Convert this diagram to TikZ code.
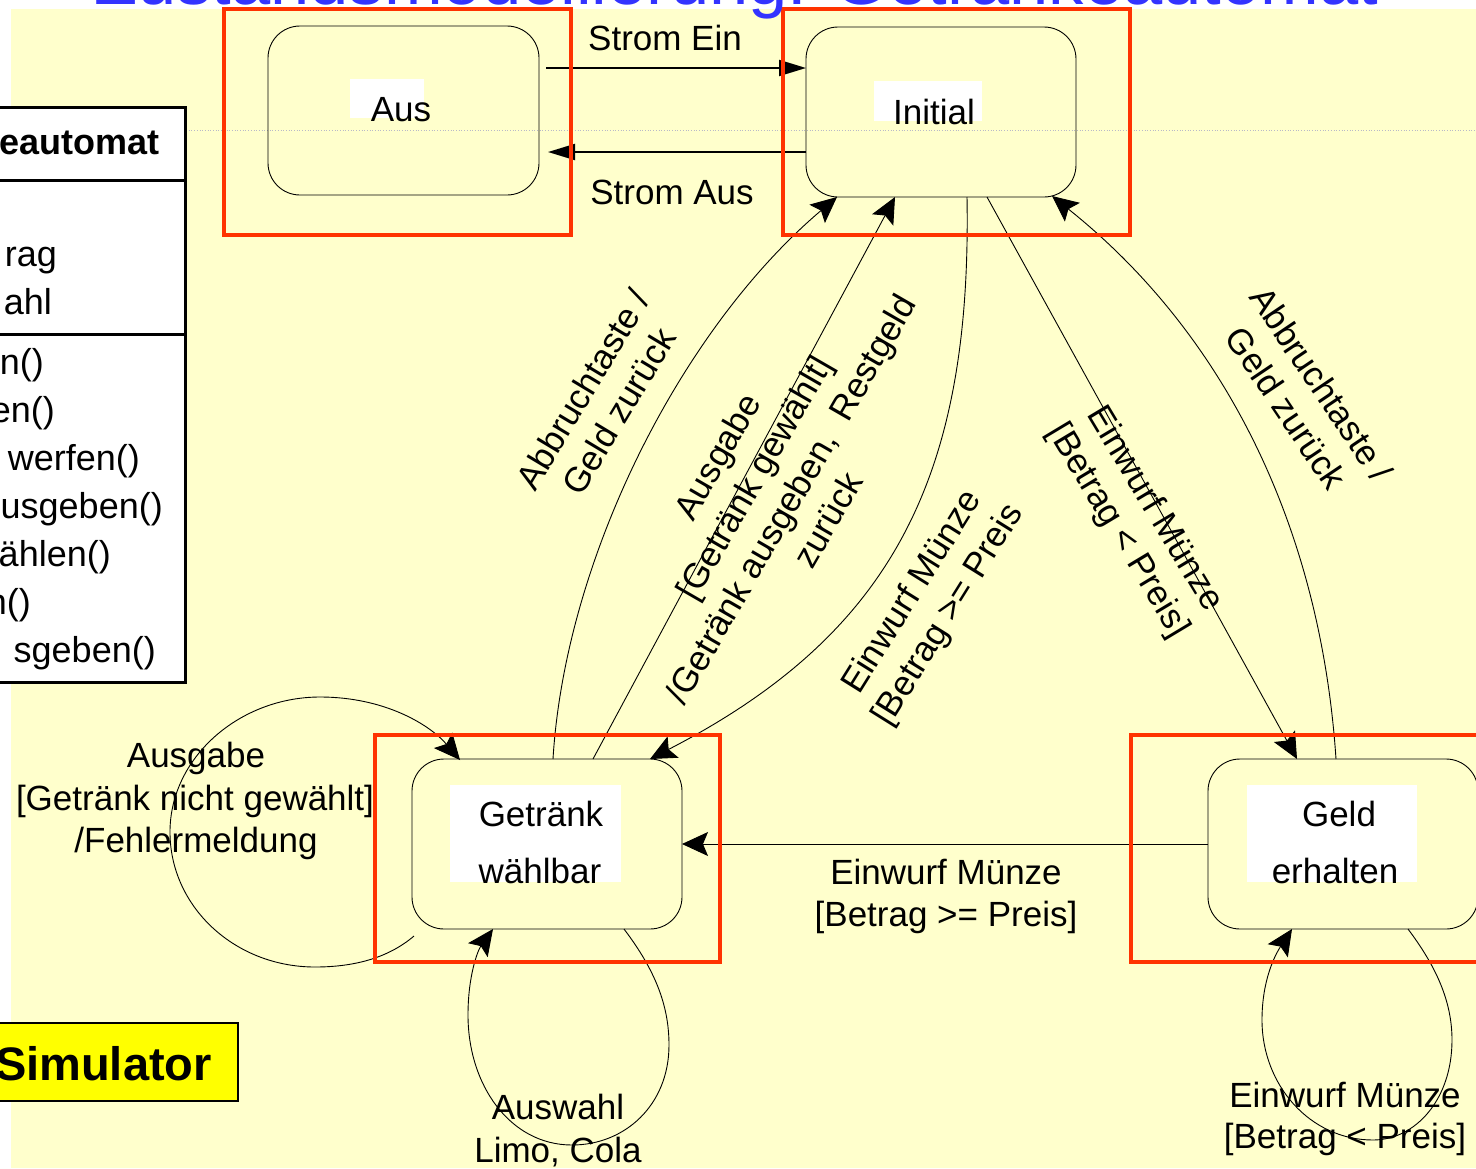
\documentclass[tikz,border=0pt]{standalone}
\usepackage{fontspec}
\setmainfont{Liberation Sans}
\usetikzlibrary{arrows.meta,calc}

\definecolor{slideyellow}{RGB}{255,255,204}
\definecolor{framered}{RGB}{255,51,0}
\definecolor{titleblue}{RGB}{51,51,255}
\definecolor{simyellow}{RGB}{255,255,0}
\definecolor{rulegray}{RGB}{185,185,200}

\newcommand\lblfont{\fontsize{35}{42.5}\selectfont}
\newcommand\classfont{\fontsize{36}{43}\selectfont}

\begin{document}
\begin{tikzpicture}[x=1pt,y=-1pt,
  statebox/.style={draw, rectangle, rounded corners=32pt, line width=0.9pt,
    inner sep=0pt, outer sep=0pt, minimum width=270pt, minimum height=170pt},
  frame/.style={draw=framered, line width=4.5pt},
  lbl/.style={font=\lblfont, inner sep=0pt},
  multi/.style={font=\lblfont, inner sep=0pt, align=center},
  classtxt/.style={font=\classfont, inner sep=0pt, anchor=base east},
  trans/.style={line width=0.9pt, -{Stealth[length=26pt,width=24pt,inset=5pt]}},
  power/.style={line width=2pt, -{Triangle[length=27pt,width=16pt]}},
]
\path[use as bounding box] (0,0) rectangle (1476,1168);
\clip (0,0) rectangle (1476,1168);

% slide background
\fill[white] (0,0) rectangle (1476,1168);
\fill[slideyellow] (11,8.5) rectangle (1476,1168);
\draw[rulegray, dotted, line width=0.7pt] (186,130) -- (1476,130);

% class box (partly off the slide)
\draw[fill=white, line width=3pt] (-10,107) rectangle (185,682);
\draw[line width=3pt] (-10,180) -- (185,180);
\draw[line width=3pt] (-10,334) -- (185,334);
\node[classtxt, font=\classfont\bfseries] (cname) at (160,154) {eautomat};
\node[classtxt] (ca1) at (57,266) {rag};
\node[classtxt] (ca2) at (52,314) {ahl};
\node[classtxt] (cm1) at (44,374) {n()};
\node[classtxt] (cm2) at (55,422) {en()};
\node[classtxt] (cm3) at (140,470) {werfen()};
\node[classtxt] (cm4) at (163,518) {usgeben()};
\node[classtxt] (cm5) at (111,566) {ählen()};
\node[classtxt] (cm6) at (31,614) {n()};
\node[classtxt] (cm7) at (156,662) {sgeben()};

% simulator button
\draw[fill=simyellow, line width=1.5pt] (-10,1023) rectangle (238,1101);
\node[font=\fontsize{47}{56}\selectfont\bfseries, inner sep=0pt, anchor=base east] (sim) at (212,1080) {Simulator};

% states
\node[statebox, minimum width=271pt, minimum height=169pt] (aus) at (403.5,110.5) {};
\node[statebox] (ini) at (941,112) {};
\node[statebox] (getr) at (547,844) {};
\node[statebox] (geld) at (1343,844) {};

% state names on white plates
\fill[white] (350,79) rectangle (424,118);
\node[lbl, anchor=base] (tAus) at (401,121) {Aus};
\fill[white] (874,81) rectangle (982,121);
\node[lbl, anchor=base] (tIni) at (934,124) {Initial};
\fill[white] (450,785) rectangle (621,882);
\node[lbl, anchor=base] (tGetr1) at (541,826) {Getränk};
\node[lbl, anchor=base] (tGetr2) at (540,883) {wählbar};
\fill[white] (1247,785) rectangle (1417,882);
\node[lbl, anchor=base] (tGeld1) at (1339,826) {Geld};
\node[lbl, anchor=base] (tGeld2) at (1335,883) {erhalten};

% power on / off
\draw[power] ($(aus.east)+(7,-42.5)$) -- ($(ini.west)+(0,-44)$);
\draw[power] ($(ini.west)+(0,40)$) -- ($(aus.east)+(9,41.5)$);
\node[lbl, anchor=base] (lStromEin) at (665,50) {Strom Ein};
\node[lbl, anchor=base] (lStromAus) at (672,204) {Strom Aus};

% transitions between states
\draw[trans] ($(getr.north)+(6,0)$) .. controls (565,560) and (680,330) .. ($(ini.south)+(-104,0)$);
\draw[trans] ($(getr.north)+(46,0)$) -- ($(ini.south)+(-46,0)$);
\draw[trans] ($(ini.south)+(26,0)$) .. controls (972,480) and (890,635) .. ($(getr.north)+(103,0)$);
\draw[trans] ($(ini.south)+(46,0)$) -- ($(geld.north)+(-46,0)$);
\draw[trans] ($(geld.north)+(-7,0)$) .. controls (1320,520) and (1220,330) .. ($(ini.south)+(111,-1)$);
\draw[trans] (geld.west) -- (getr.east);

% self transitions
\draw[trans] ($(getr.south west)+(2,7)$) .. controls (387,959) and (352,967) .. (315,967)
  .. controls (235,967) and (170,907) .. (170,832)
  .. controls (170,757) and (240,697) .. (320,697)
  .. controls (385,697) and (430,725) .. ($(getr.north west)+(48,1)$);
\draw[trans] ($(getr.south)+(77,0)$) .. controls (655,970) and (669,1005) .. (669,1045)
  .. controls (669,1105) and (625,1145) .. (572,1145)
  .. controls (510,1145) and (468,1085) .. (468,1015)
  .. controls (468,975) and (478,950) .. ($(getr.south)+(-54,0)$);
\draw[trans] ($(geld.south)+(65,0)$) .. controls (1435,965) and (1452,1000) .. (1452,1040)
  .. controls (1452,1100) and (1415,1140) .. (1373,1140)
  .. controls (1310,1140) and (1262,1085) .. (1262,1020)
  .. controls (1262,980) and (1275,955) .. ($(geld.south)+(-51,0)$);

% transition labels
\node[multi, rotate=59] (lAbbrL) at (601,400) {Abbruchtaste /\\Geld zurück};
\node[multi, rotate=60] (lAusg) at (772,488) {Ausgabe\\{[}Getränk gewählt]\\/Getränk ausgeben,~ Restgeld\\zurück};
\node[multi, rotate=58] (lEinGe) at (931,604) {Einwurf Münze\\{[}Betrag >= Preis};
\node[multi, rotate=-59] (lEinLt) at (1136,520) {Einwurf Münze\\{[}Betrag < Preis]};
\node[multi, rotate=-56] (lAbbrR) at (1304,396) {Abbruchtaste /\\Geld zurück};

\node[lbl, anchor=base] (lMid1) at (946,884) {Einwurf Münze};
\node[lbl, anchor=base] (lMid2) at (946,926) {[Betrag >= Preis]};

\node[lbl, anchor=base] (lErr1) at (196,767) {Ausgabe};
\node[lbl, anchor=base] (lErr2) at (195,810) {[Getränk nicht gewählt]};
\node[lbl, anchor=base] (lErr3) at (196,852) {/Fehlermeldung};

\node[lbl, anchor=base] (lSel1) at (558,1119) {Auswahl};
\node[lbl, anchor=base] (lSel2) at (558,1162) {Limo, Cola};

\node[lbl, anchor=base] (lCoin1) at (1345,1107) {Einwurf Münze};
\node[lbl, anchor=base] (lCoin2) at (1345,1148) {[Betrag < Preis]};

% highlight frames
\draw[frame] (224,9) rectangle (571,235);
\draw[frame] (783,9) rectangle (1130,235);
\draw[frame] (375,735) rectangle (720,962);
\draw[frame] (1131,735) rectangle (1490,962);

% slide title, mostly above the visible area
\node[font=\fontsize{70.5}{84}\selectfont, text=titleblue, inner sep=0pt, anchor=base west] (title) at (94,4) {Zustandsmodellierung: Getränkeautomat};
\end{tikzpicture}
\end{document}
